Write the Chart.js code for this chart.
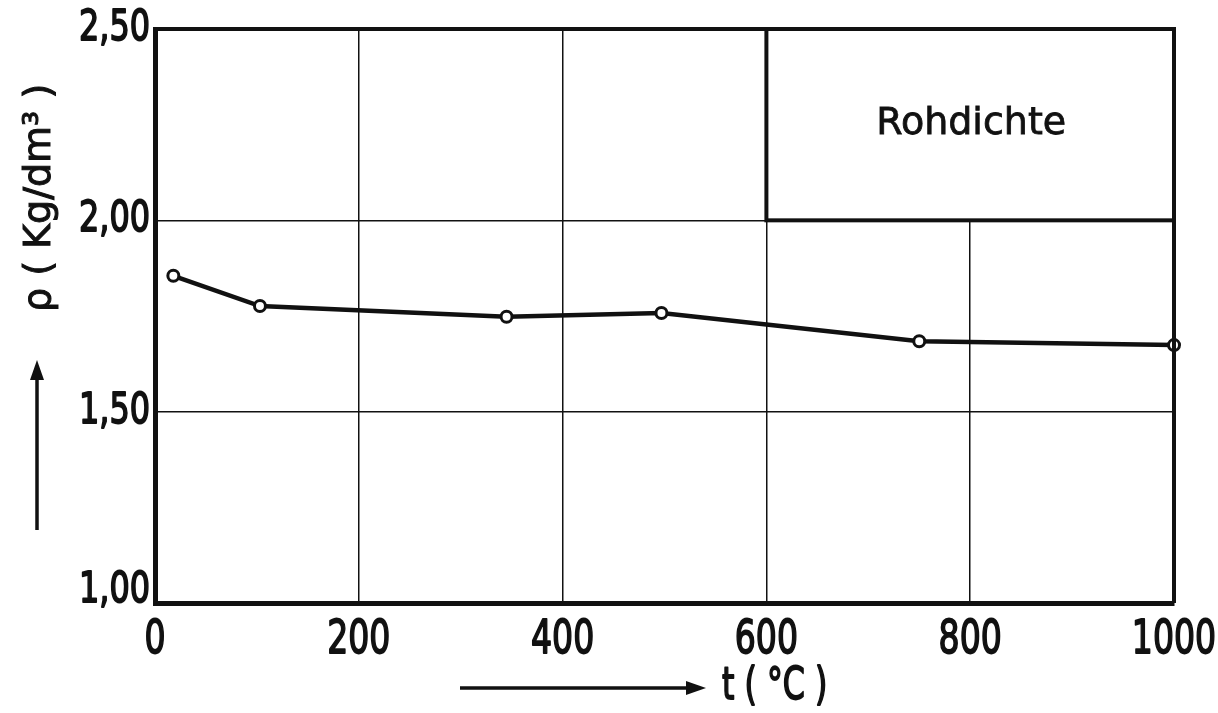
<!DOCTYPE html>
<html>
<head>
<meta charset="utf-8">
<script src="https://cdn.jsdelivr.net/npm/chart.js@4.4.1/dist/chart.umd.min.js"></script>
<style>
  html, body { margin: 0; padding: 0; background: #fff; }
  #wrap { width: 1218px; height: 713px; }
</style>
</head>
<body>
<div id="wrap"><canvas id="myChart" width="1218" height="713"></canvas></div>
<script>
// Rohdichte over temperature
const temps = [18, 103, 345, 497, 750, 1000]
const density = [1.855, 1.776, 1.748, 1.758, 1.684, 1.674]
const xTicks = [0, 200, 400, 600, 800, 1000]
const yTicks = [1.0, 1.5, 2.0, 2.5]
const boxLabel = 'Rohdichte'
const xTitle = 't ( °C )'
const yTitle = 'ρ ( Kg/dm³ )'

const ink = '#111'

function arrow(ctx, x1, y1, x2, y2) {
  const a = Math.atan2(y2 - y1, x2 - x1)
  ctx.save()
  ctx.strokeStyle = ink
  ctx.fillStyle = ink
  ctx.lineWidth = 3.5
  ctx.beginPath()
  ctx.moveTo(x1, y1)
  ctx.lineTo(x2 - 12 * Math.cos(a), y2 - 12 * Math.sin(a))
  ctx.stroke()
  ctx.translate(x2, y2)
  ctx.rotate(a)
  ctx.beginPath()
  ctx.moveTo(0, 0)
  ctx.lineTo(-20, -7)
  ctx.lineTo(-20, 7)
  ctx.closePath()
  ctx.fill()
  ctx.restore()
}

// narrow drawing lettering for the tick numbers
function narrowText(ctx, text, x, y, size, sx, align) {
  ctx.save()
  ctx.font = size + 'px "DejaVu Sans"'
  ctx.fillStyle = ink
  ctx.strokeStyle = ink
  ctx.lineWidth = 1.8
  ctx.lineJoin = 'round'
  ctx.textBaseline = 'middle'
  ctx.textAlign = align
  ctx.translate(x, y)
  ctx.scale(sx, 1)
  ctx.fillText(text, 0, 0)
  ctx.strokeText(text, 0, 0)
  ctx.restore()
}

const decorations = {
  id: 'decorations',
  afterDraw(chart) {
    const { ctx, scales: { x, y }, chartArea: area } = chart

    // label box in the upper right corner
    const bx1 = x.getPixelForValue(600)
    const bx2 = x.getPixelForValue(1000)
    const by1 = y.getPixelForValue(2.5)
    const by2 = y.getPixelForValue(2.0)
    ctx.save()
    ctx.fillStyle = '#fff'
    ctx.fillRect(bx1, by1, bx2 - bx1, by2 - by1)
    ctx.strokeStyle = ink
    ctx.lineWidth = 4
    ctx.strokeRect(bx1, by1, bx2 - bx1, by2 - by1)
    ctx.font = '38px "DejaVu Sans"'
    ctx.fillStyle = ink
    ctx.strokeStyle = ink
    ctx.lineWidth = 0.8
    ctx.textAlign = 'center'
    ctx.textBaseline = 'middle'
    ctx.fillText(boxLabel, (bx1 + bx2) / 2 + 1, (by1 + by2) / 2 - 1)
    ctx.strokeText(boxLabel, (bx1 + bx2) / 2 + 1, (by1 + by2) / 2 - 1)
    ctx.restore()

    // top and right frame
    ctx.save()
    ctx.strokeStyle = ink
    ctx.lineWidth = 4
    ctx.beginPath()
    ctx.moveTo(area.left, area.top)
    ctx.lineTo(area.right, area.top)
    ctx.lineTo(area.right, area.bottom)
    ctx.stroke()
    ctx.restore()

    // tick numbers
    x.ticks.forEach(t => {
      narrowText(ctx, String(t.value), x.getPixelForValue(t.value), area.bottom + 38, 46, 0.72, 'center')
    })
    y.ticks.forEach(t => {
      const py = y.getPixelForValue(t.value) - (t.value === 1 ? 12 : 0)
      narrowText(ctx, t.value.toFixed(2).replace('.', ','), area.left - 5, py, 42, 0.76, 'right')
    })

    // axis titles with arrows
    narrowText(ctx, xTitle, 722, 688, 44, 0.72, 'left')
    arrow(ctx, 460, 688, 706, 688)

    ctx.save()
    ctx.fillStyle = ink
    ctx.strokeStyle = ink
    ctx.lineWidth = 1
    ctx.font = '38px "DejaVu Sans"'
    ctx.textBaseline = 'middle'
    ctx.textAlign = 'left'
    ctx.translate(40, 312)
    ctx.rotate(-Math.PI / 2)
    ctx.fillText(yTitle, 0, 0)
    ctx.strokeText(yTitle, 0, 0)
    ctx.restore()
    arrow(ctx, 37, 530, 37, 360)
  }
}

const myChart = new Chart(document.getElementById('myChart').getContext('2d'), {
  type: 'scatter',
  data: {
    datasets: [{
      data: temps.map((t, i) => ({ x: t, y: density[i] })),
      showLine: true,
      borderColor: ink,
      borderWidth: 4.5,
      pointRadius: 5.5,
      pointBorderWidth: 3,
      pointBackgroundColor: '#fff',
      pointBorderColor: ink,
      tension: 0,
      clip: false
    }]
  },
  options: {
    responsive: false,
    animation: false,
    layout: { padding: { left: 155, top: 29, right: 44, bottom: 110 } },
    plugins: { legend: { display: false }, tooltip: { enabled: false } },
    scales: {
      x: {
        type: 'linear',
        min: 0,
        max: 1000,
        afterBuildTicks: s => { s.ticks = xTicks.map(v => ({ value: v })) },
        ticks: { display: false },
        grid: { color: ink, lineWidth: 1.5, drawTicks: false },
        border: { color: ink, width: 5 }
      },
      y: {
        min: 1,
        max: 2.5,
        afterBuildTicks: s => { s.ticks = yTicks.map(v => ({ value: v })) },
        ticks: { display: false },
        grid: { color: ink, lineWidth: 1.5, drawTicks: false },
        border: { color: ink, width: 5 }
      }
    }
  },
  plugins: [decorations]
})
</script>
</body>
</html>
